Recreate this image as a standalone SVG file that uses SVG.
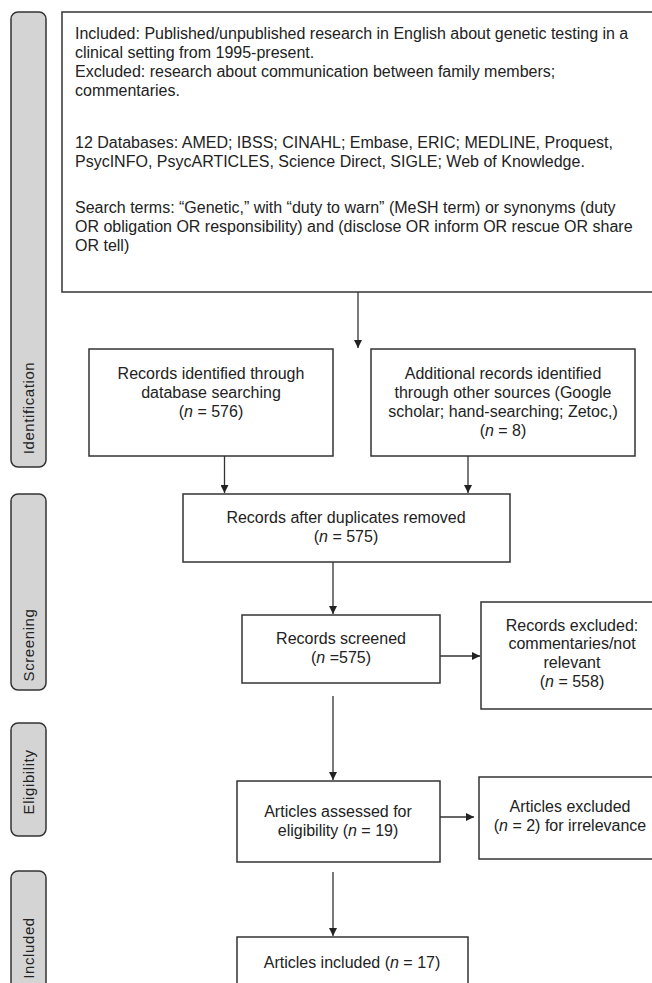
<svg xmlns="http://www.w3.org/2000/svg" width="652" height="983" viewBox="0 0 652 983">
<style>
text{font-family:"Liberation Sans",Arial,sans-serif;font-size:16px;fill:#222}
.box{fill:#fff;stroke:#333;stroke-width:1.5}
.lab{fill:#d4d4d4;stroke:#333;stroke-width:1.5}
.lt{font-size:15px;letter-spacing:0.6px;text-anchor:middle}
.c{text-anchor:middle}
.i{font-style:italic}
.con line{stroke:#333;stroke-width:1.3}
</style>
<defs>
<marker id="ah" viewBox="0 0 10 10" refX="10" refY="5" markerWidth="8" markerHeight="8" markerUnits="userSpaceOnUse" orient="auto">
<path d="M0,0 L10,5 L0,10 z" fill="#222"/>
</marker>
</defs>
<rect width="652" height="983" fill="#fff"/>

<g id="lab-identification"><rect class="lab" x="11" y="12" width="35" height="455" rx="7"/><text class="lt" transform="translate(34,408) rotate(-90)">Identification</text></g>
<g id="lab-screening"><rect class="lab" x="11" y="494" width="35" height="196" rx="7"/><text class="lt" transform="translate(34,645) rotate(-90)">Screening</text></g>
<g id="lab-eligibility"><rect class="lab" x="11" y="723" width="35" height="113" rx="7"/><text class="lt" transform="translate(34,782) rotate(-90)">Eligibility</text></g>
<g id="lab-included"><rect class="lab" x="11" y="871" width="35" height="130" rx="7"/><text class="lt" transform="translate(34,948) rotate(-90)">Included</text></g>

<g id="criteria"><rect class="box" x="62" y="12" width="610" height="280"/>
<text x="75" y="39">Included: Published/unpublished research in English about genetic testing in a</text>
<text x="75" y="58">clinical setting from 1995-present.</text>
<text x="75" y="77">Excluded: research about communication between family members;</text>
<text x="75" y="96">commentaries.</text>
<text x="75" y="148">12 Databases: AMED; IBSS; CINAHL; Embase, ERIC; MEDLINE, Proquest,</text>
<text x="75" y="167">PsycINFO, PsycARTICLES, Science Direct, SIGLE; Web of Knowledge.</text>
<text x="75" y="213">Search terms: “Genetic,” with “duty to warn” (MeSH term) or synonyms (duty</text>
<text x="75" y="232">OR obligation OR responsibility) and (disclose OR inform OR rescue OR share</text>
<text x="75" y="251">OR tell)</text>
</g>

<g id="db"><rect class="box" x="89" y="349" width="244" height="107"/>
<text class="c" x="211" y="379">Records identified through</text>
<text class="c" x="211" y="398">database searching</text>
<text class="c" x="211" y="417">(<tspan class="i">n</tspan> = 576)</text>
</g>

<g id="other"><rect class="box" x="371" y="349" width="264" height="107"/>
<text class="c" x="503" y="379">Additional records identified</text>
<text class="c" x="503" y="398">through other sources (Google</text>
<text class="c" x="503" y="417">scholar; hand-searching; Zetoc,)</text>
<text class="c" x="503" y="436">(<tspan class="i">n</tspan> = 8)</text>
</g>

<g id="dup"><rect class="box" x="183" y="494" width="327" height="68"/>
<text class="c" x="346" y="523">Records after duplicates removed</text>
<text class="c" x="346" y="542">(<tspan class="i">n</tspan> = 575)</text>
</g>

<g id="screened"><rect class="box" x="242" y="615" width="198" height="68"/>
<text class="c" x="341" y="644">Records screened</text>
<text class="c" x="341" y="663">(<tspan class="i">n</tspan> =575)</text>
</g>

<g id="excluded1"><rect class="box" x="481" y="602" width="190" height="107"/>
<text class="c" x="572" y="631">Records excluded:</text>
<text class="c" x="572" y="649">commentaries/not</text>
<text class="c" x="572" y="668">relevant</text>
<text class="c" x="572" y="687">(<tspan class="i">n</tspan> = 558)</text>
</g>

<g id="assessed"><rect class="box" x="237" y="781" width="203" height="81"/>
<text class="c" x="338" y="817">Articles assessed for</text>
<text class="c" x="338" y="836">eligibility (<tspan class="i">n</tspan> = 19)</text>
</g>

<g id="excluded2"><rect class="box" x="479" y="777" width="192" height="82"/>
<text class="c" x="570" y="812">Articles excluded</text>
<text class="c" x="570" y="831">(<tspan class="i">n</tspan> = 2) for irrelevance</text>
</g>

<g id="included"><rect class="box" x="237" y="937" width="231" height="60"/>
<text class="c" x="352" y="968">Articles included (<tspan class="i">n</tspan> = 17)</text>
</g>

<g id="connectors" class="con">
<line x1="358" y1="292" x2="358" y2="348" marker-end="url(#ah)"/>
<line x1="224.5" y1="456" x2="224.5" y2="493" marker-end="url(#ah)"/>
<line x1="468" y1="456" x2="468" y2="493" marker-end="url(#ah)"/>
<line x1="333" y1="562" x2="333" y2="614" marker-end="url(#ah)"/>
<line x1="440" y1="656" x2="480" y2="656" marker-end="url(#ah)"/>
<line x1="333" y1="696" x2="333" y2="780" marker-end="url(#ah)"/>
<line x1="440" y1="817" x2="474" y2="817" marker-end="url(#ah)"/>
<line x1="333" y1="872" x2="333" y2="936" marker-end="url(#ah)"/>
</g>
</svg>
